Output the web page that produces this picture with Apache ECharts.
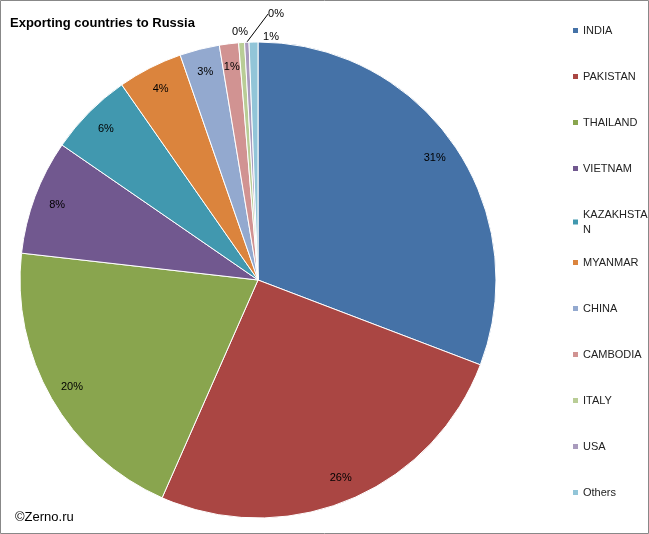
<!DOCTYPE html><html><head><meta charset="utf-8">
<script src="https://cdn.jsdelivr.net/npm/echarts@6/dist/echarts.min.js"></script>
<style>body{margin:0}#c{width:649px;height:534px}</style></head><body><div id="c"></div>
<script>
const categories=['INDIA','PAKISTAN','THAILAND','VIETNAM','KAZAKHSTAN','MYANMAR','CHINA','CAMBODIA','ITALY','USA','Others'];
const values=[30.8,25.8,20.2,7.8,5.7,4.4,2.7,1.3,0.4,0.3,0.6];
const colors=['#4572A7','#AA4643','#89A54E','#71588F','#4198AF','#DB843D','#93A9CF','#D19392','#B9CD96','#A99BBD','#92C5D8'];
const data=categories.map((n,i)=>({name:n,value:values[i]}));
const fmt=p=>Math.round(p.value)+'%';
const smallPos={ITALY:[240,32],USA:[276,14],Others:[271,37]};
const labelData=categories.map((n,i)=>({name:n,value:values[i],
  label: smallPos[n]?{position:'outside'}:{position:'inside'},
  labelLine:smallPos[n]?{show:n==='USA',length:8,length2:0,lineStyle:{color:'#000',width:1}}:{show:false}}));
const legBase={orient:'vertical',left:566,itemWidth:7,itemHeight:7,icon:'rect',itemGap:31,
    textStyle:{fontSize:11,fontFamily:'Liberation Sans, Arial',color:'#222',lineHeight:15,padding:[0,0,0,-1]},
    formatter:n=>n==='KAZAKHSTAN'?'KAZAKHSTA\nN':n};
const chart=echarts.init(document.getElementById('c'));
chart.setOption({
  color:colors,animation:false,
  graphic:[{type:'rect',shape:{x:0.5,y:0.5,width:648,height:533},style:{fill:'none',stroke:'#888',lineWidth:1}},
    {type:'text',left:10,top:17,style:{text:'Exporting countries to Russia',font:'bold 13px "Liberation Sans", Arial',fill:'#000'}},
    {type:'text',left:15,top:511,style:{text:'©Zerno.ru',font:'13px "Liberation Sans", Arial',fill:'#000'}}],
  legend:[Object.assign({top:18,data:categories.slice(0,5)},legBase),
          Object.assign({top:250,data:categories.slice(5)},legBase)],
  series:[
   {type:'pie',center:[258,280],radius:[0,238],startAngle:90,clockwise:true,data:data,
    label:{show:false},labelLine:{show:false},itemStyle:{borderColor:'#fff',borderWidth:1},silent:true},
   {type:'pie',center:[258,280],radius:[185,238],startAngle:90,clockwise:true,data:labelData,
    itemStyle:{color:'rgba(0,0,0,0)'},silent:true,
    labelLayout:p=>{const n=categories[p.dataIndex];return smallPos[n]?{x:smallPos[n][0],y:smallPos[n][1],align:'center',verticalAlign:'middle'}:{};},
    label:{show:true,formatter:fmt,fontSize:11,fontFamily:'Liberation Sans, Arial',color:'#000'}}
  ]
});
</script></body></html>
